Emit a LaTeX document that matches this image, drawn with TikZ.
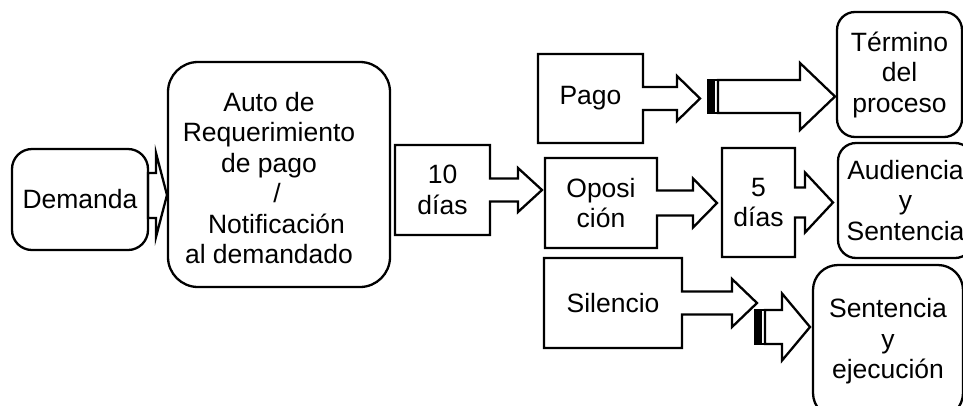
\documentclass[tikz,border=0pt]{standalone}
\usepackage{fontspec}
\setmainfont{Liberation Sans}
\usetikzlibrary{positioning, calc}
\tikzset{
  rbox/.style={rectangle, draw=black, line width=2.3pt, align=center,
               inner sep=0pt, outer sep=0pt, font=\fontsize{26.5}{30.5}\selectfont},
  cbox/.style={rectangle, align=center, inner sep=0pt, outer sep=0pt,
               font=\fontsize{26.5}{30.5}\selectfont},
  outline/.style={draw=black, line width=2.3pt, line join=miter},
}
% box with an arrow coming out of its right side
\newcommand{\callout}[5]{%
  \draw[outline] (#1.north west) -- (#1.north east)
    -- ($(#1.east)+(0,-#2)$) -- ($(#1.east)+(#3,-#2)$)
    -- ($(#1.east)+(#3,-#4)$) -- ($(#1.east)+(#3+#5,0)$)
    -- ($(#1.east)+(#3,#4)$) -- ($(#1.east)+(#3,#2)$)
    -- ($(#1.east)+(0,#2)$) -- (#1.south east) -- (#1.south west) -- cycle;}
% arrow with stripes at its tail
\newcommand{\striped}[5]{%
  \fill ($(#1)+(0,-#2)$) rectangle ($(#1)+(7,#2)$);
  \draw[outline] ($(#1)+(0,-#2)$) rectangle ($(#1)+(10,#2)$);
  \draw[outline] ($(#1)+(10,-#2)$) -- ($(#1)+(#3,-#2)$) -- ($(#1)+(#3,-#4)$)
    -- ($(#1)+(#3+#5,0)$) -- ($(#1)+(#3,#4)$) -- ($(#1)+(#3,#2)$)
    -- ($(#1)+(10,#2)$) -- cycle;}

\begin{document}
\begin{tikzpicture}[x=1pt, y=-1pt]
  \useasboundingbox (0,0) rectangle (963,405);
  % left part
  \node[rbox, rounded corners=20pt, minimum width=136pt, minimum height=101pt] (dem) at (80,199.5) {Demanda};
  \node[rbox, rounded corners=30pt, minimum width=222pt, minimum height=225pt] (auto) at (279,174.5) {};
  \node[cbox] (autotxt) at (269,178) {Auto de\\Requerimiento\\de pago\\\hspace*{16pt}/\\\hspace*{15pt}Notificación\\al demandado};
  \draw[outline] ($(dem.east)+(0,-26.5)$) -- ++(8,0) -- ++(0,-20) -- ($(dem.east)+(19,-4.5)$)
    -- ($(dem.east)+(8,37.5)$) -- ++(0,-19) -- ($(dem.east)+(0,18.5)$) -- cycle;
  % boxes with arrows
  \node[cbox, minimum width=95pt, minimum height=90pt] (diez) at (442.5,190) {10\\días};
  \node[cbox, minimum width=105pt, minimum height=89pt] (pago) at (590.5,98.5) {Pago};
  \node[cbox, minimum width=112pt, minimum height=90pt] (opo) at (601,203) {Oposi\\ción};
  \node[cbox, minimum width=138pt, minimum height=90pt] (sil) at (613,303) {Silencio};
  \node[cbox, minimum width=73pt, minimum height=109pt] (cinco) at (758.5,202.5) {5\\días};
  \callout{diez}{11.5}{28}{22}{24}
  \callout{pago}{11.5}{34}{22.5}{23}
  \callout{opo}{12.5}{36}{24.5}{24}
  \callout{sil}{11.5}{50}{24}{25}
  \callout{cinco}{15}{10}{30}{28}
  % results
  \node[rbox, rounded corners=18pt, minimum width=125pt, minimum height=125pt] (term) at (899.5,74.5) {Término\\del\\proceso};
  \node[rbox, rounded corners=18pt, minimum width=135pt, minimum height=115pt] (aud) at (905.5,200.5) {Audiencia\\y\\Sentencia};
  \node[rbox, rounded corners=25pt, minimum width=150pt, minimum height=153pt] (sent) at (888,341.5) {Sentencia\\y\\ejecución};
  \coordinate (s1) at ($(pago.east)+(65,-2)$);
  \coordinate (s2) at ($(sil.east)+(73,24)$);
  \striped{s1}{16.5}{92}{33.5}{35}
  \striped{s2}{17}{27}{33.5}{28}
\end{tikzpicture}
\end{document}
